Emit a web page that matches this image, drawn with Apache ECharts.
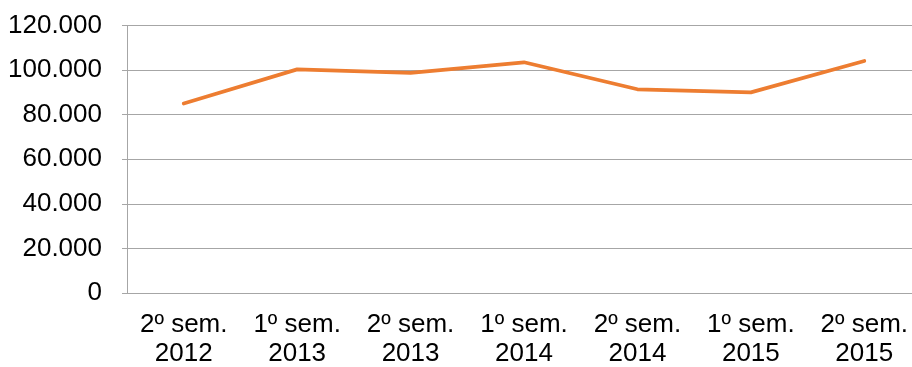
<!DOCTYPE html>
<html>
<head>
<meta charset="utf-8">
<script src="https://cdn.jsdelivr.net/npm/echarts@6/dist/echarts.min.js"></script>
<style>
  html, body { margin: 0; padding: 0; background: #fff; }
  #chart { width: 912px; height: 367px; }
</style>
</head>
<body>
<div id="chart"></div>
<script>
// Semesters shown on the horizontal axis
const categories = [
  '2º sem.\n2012', '1º sem.\n2013', '2º sem.\n2013', '1º sem.\n2014',
  '2º sem.\n2014', '1º sem.\n2015', '2º sem.\n2015'
];
// Values per semester
const values = [85000, 100300, 98800, 103500, 91400, 90000, 104100];
// Vertical axis range
const yMin = 0;
const yMax = 120000;
const yStep = 20000;

// Thousands separator as a dot (pt-BR style)
function fmt(v) {
  return String(Math.round(v)).replace(/\B(?=(\d{3})+(?!\d))/g, '.');
}

const gridColor = '#a6a6a6';
const font = 'Liberation Sans, Arial, sans-serif';

const chart = echarts.init(document.getElementById('chart'), null, { renderer: 'canvas' });
chart.setOption({
  animation: false,
  backgroundColor: '#ffffff',
  grid: {
    left: 127, right: -9, top: 25.5, bottom: 74,
    containLabel: false, outerBoundsMode: 'none'
  },
  xAxis: {
    type: 'category',
    data: categories,
    boundaryGap: true,
    axisLine: { show: true, lineStyle: { color: gridColor, width: 1 } },
    axisTick: { show: false },
    axisLabel: {
      color: '#000', fontFamily: font, fontSize: 26, lineHeight: 29,
      margin: 17, interval: 0
    },
    splitLine: { show: false }
  },
  yAxis: {
    type: 'value',
    min: yMin, max: yMax, interval: yStep,
    axisLine: { show: true, lineStyle: { color: gridColor, width: 1 } },
    axisTick: { show: true, length: 5, lineStyle: { color: gridColor } },
    axisLabel: {
      color: '#000', fontFamily: font, fontSize: 26, margin: 25,
      formatter: fmt
    },
    splitLine: { show: true, lineStyle: { color: gridColor, width: 1 } }
  },
  series: [{
    type: 'line',
    data: values,
    showSymbol: false,
    symbol: 'none',
    lineStyle: { color: '#ED7D31', width: 3.75, cap: 'round', join: 'round' },
    itemStyle: { color: '#ED7D31' }
  }]
});
</script>
</body>
</html>
